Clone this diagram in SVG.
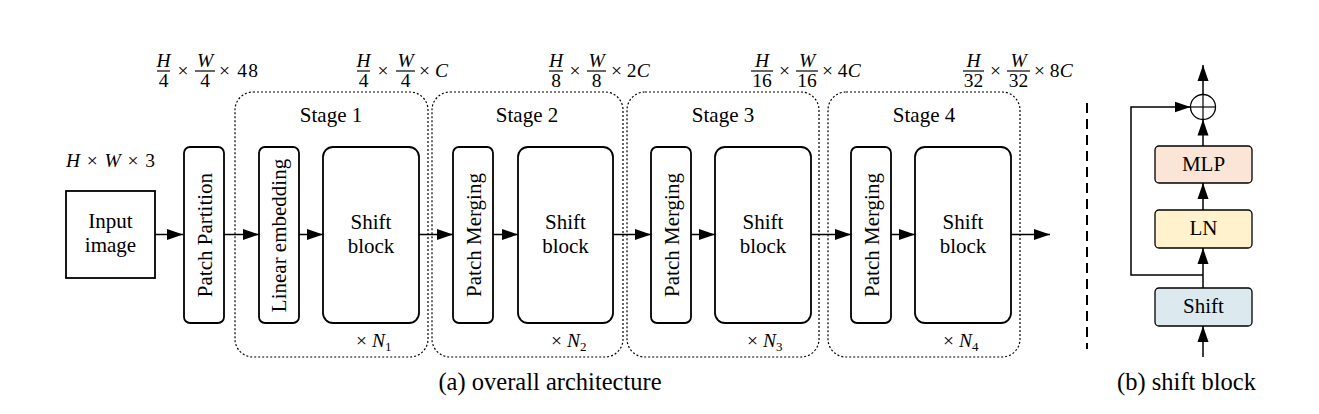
<svg xmlns="http://www.w3.org/2000/svg" width="1319" height="414" viewBox="0 0 1319 414">
<defs>
<marker id="ah" markerUnits="userSpaceOnUse" markerWidth="16" markerHeight="12" refX="16" refY="6" orient="auto">
<path d="M0,0.5 L16,6 L0,11.5 z" fill="#000"/>
</marker>
<style>
text{font-family:'Liberation Serif','Tinos','Times New Roman','DejaVu Serif',serif;fill:#000}
.t{font-size:21px}
.cap{font-size:24.5px}
.m{font-size:19.5px}
.i{font-style:italic}
.box{fill:#fff;stroke:#000;stroke-width:1.8}
.stage{fill:none;stroke:#000;stroke-width:1.2;stroke-dasharray:2 2}
.ln{fill:none;stroke:#000;stroke-width:1.5}
.bar{stroke:#000;stroke-width:1.2}
</style>
</defs>
<rect width="1319" height="414" fill="#fff"/>

<!-- stage containers -->
<g id="stage1"><rect class="stage" x="235" y="92" width="193" height="265" rx="18"/><text class="t" x="331" y="122" text-anchor="middle">Stage 1</text></g>
<g id="stage2"><rect class="stage" x="432" y="92" width="191" height="265" rx="18"/><text class="t" x="527" y="122" text-anchor="middle">Stage 2</text></g>
<g id="stage3"><rect class="stage" x="627" y="92" width="192" height="265" rx="18"/><text class="t" x="723" y="122" text-anchor="middle">Stage 3</text></g>
<g id="stage4"><rect class="stage" x="828" y="92" width="192" height="265" rx="18"/><text class="t" x="924" y="122" text-anchor="middle">Stage 4</text></g>

<!-- nodes -->
<g id="input"><rect class="box" x="66" y="191" width="89" height="87"/><text class="t" x="110.5" y="228" text-anchor="middle">Input</text><text class="t" x="110.5" y="252" text-anchor="middle">image</text></g>
<g id="patch-partition"><rect class="box" x="184" y="147" width="40" height="176" rx="6"/><text class="t" text-anchor="middle" transform="translate(211.5,235) rotate(-90)">Patch Partition</text></g>
<g id="linear-embedding"><rect class="box" x="259" y="147" width="40" height="176" rx="6"/><text class="t" text-anchor="middle" transform="translate(286,235.5) rotate(-90)">Linear embedding</text></g>
<g id="shift1"><rect class="box" x="323" y="147" width="96" height="176" rx="10"/><text class="t" x="371" y="229" text-anchor="middle">Shift</text><text class="t" x="371" y="253" text-anchor="middle">block</text></g>
<g id="merge2"><rect class="box" x="453" y="147" width="40" height="176" rx="6"/><text class="t" text-anchor="middle" transform="translate(481,235) rotate(-90)">Patch Merging</text></g>
<g id="shift2"><rect class="box" x="518" y="147" width="95" height="176" rx="10"/><text class="t" x="565.5" y="229" text-anchor="middle">Shift</text><text class="t" x="565.5" y="253" text-anchor="middle">block</text></g>
<g id="merge3"><rect class="box" x="651" y="147" width="40" height="176" rx="6"/><text class="t" text-anchor="middle" transform="translate(679,235) rotate(-90)">Patch Merging</text></g>
<g id="shift3"><rect class="box" x="715" y="147" width="96" height="176" rx="10"/><text class="t" x="763" y="229" text-anchor="middle">Shift</text><text class="t" x="763" y="253" text-anchor="middle">block</text></g>
<g id="merge4"><rect class="box" x="851" y="147" width="40" height="176" rx="6"/><text class="t" text-anchor="middle" transform="translate(879,235) rotate(-90)">Patch Merging</text></g>
<g id="shift4"><rect class="box" x="915" y="147" width="96" height="176" rx="10"/><text class="t" x="963" y="229" text-anchor="middle">Shift</text><text class="t" x="963" y="253" text-anchor="middle">block</text></g>

<!-- repeat counts -->
<g id="n1"><text class="m" x="356" y="347">× <tspan class="i">N</tspan><tspan font-size="13" dy="4">1</tspan></text></g>
<g id="n2"><text class="m" x="551" y="347">× <tspan class="i">N</tspan><tspan font-size="13" dy="4">2</tspan></text></g>
<g id="n3"><text class="m" x="747" y="347">× <tspan class="i">N</tspan><tspan font-size="13" dy="4">3</tspan></text></g>
<g id="n4"><text class="m" x="943" y="347">× <tspan class="i">N</tspan><tspan font-size="13" dy="4">4</tspan></text></g>

<!-- dimension labels -->
<g id="dim0"><text class="m" x="66" y="167" textLength="89" lengthAdjust="spacing"><tspan class="i">H</tspan> × <tspan class="i">W</tspan> × 3</text></g>
<g id="dim1">
<text class="m i" x="163.5" y="67" text-anchor="middle">H</text><line class="bar" x1="157" y1="71" x2="170" y2="71"/><text class="m" x="163.5" y="87" text-anchor="middle">4</text>
<text class="m" x="183" y="77" text-anchor="middle">×</text>
<text class="m i" x="205" y="67" text-anchor="middle">W</text><line class="bar" x1="195" y1="71" x2="215" y2="71"/><text class="m" x="205" y="87" text-anchor="middle">4</text>
<text class="m" x="219" y="77" textLength="39" lengthAdjust="spacing">× 48</text>
</g>
<g id="dim2">
<text class="m i" x="363.5" y="67" text-anchor="middle">H</text><line class="bar" x1="357" y1="71" x2="370" y2="71"/><text class="m" x="363.5" y="87" text-anchor="middle">4</text>
<text class="m" x="383" y="77" text-anchor="middle">×</text>
<text class="m i" x="405.5" y="67" text-anchor="middle">W</text><line class="bar" x1="396" y1="71" x2="415" y2="71"/><text class="m" x="405.5" y="87" text-anchor="middle">4</text>
<text class="m" x="419" y="77">× <tspan class="i">C</tspan></text>
</g>
<g id="dim3">
<text class="m i" x="556" y="67" text-anchor="middle">H</text><line class="bar" x1="549" y1="71" x2="563" y2="71"/><text class="m" x="556" y="87" text-anchor="middle">8</text>
<text class="m" x="575" y="77" text-anchor="middle">×</text>
<text class="m i" x="596.5" y="67" text-anchor="middle">W</text><line class="bar" x1="587" y1="71" x2="606" y2="71"/><text class="m" x="596.5" y="87" text-anchor="middle">8</text>
<text class="m" x="611" y="77">× 2<tspan class="i">C</tspan></text>
</g>
<g id="dim4">
<text class="m i" x="762" y="67" text-anchor="middle">H</text><line class="bar" x1="751" y1="71" x2="773" y2="71"/><text class="m" x="762" y="87" text-anchor="middle">16</text>
<text class="m" x="784.5" y="77" text-anchor="middle">×</text>
<text class="m i" x="807" y="67" text-anchor="middle">W</text><line class="bar" x1="796" y1="71" x2="818" y2="71"/><text class="m" x="807" y="87" text-anchor="middle">16</text>
<text class="m" x="822" y="77">× 4<tspan class="i">C</tspan></text>
</g>
<g id="dim5">
<text class="m i" x="973.5" y="67" text-anchor="middle">H</text><line class="bar" x1="963" y1="71" x2="984" y2="71"/><text class="m" x="973.5" y="87" text-anchor="middle">32</text>
<text class="m" x="995.5" y="77" text-anchor="middle">×</text>
<text class="m i" x="1018.5" y="67" text-anchor="middle">W</text><line class="bar" x1="1007" y1="71" x2="1030" y2="71"/><text class="m" x="1018.5" y="87" text-anchor="middle">32</text>
<text class="m" x="1034" y="77">× 8<tspan class="i">C</tspan></text>
</g>

<!-- shift block detail nodes -->
<g id="sb-shift"><rect x="1155" y="288" width="97" height="38" rx="4" fill="#DCEAF0" stroke="#000" stroke-width="1.3"/><text class="t" x="1203.5" y="313" text-anchor="middle">Shift</text></g>
<g id="sb-ln"><rect x="1155" y="210" width="97" height="38" rx="4" fill="#FFF2CC" stroke="#000" stroke-width="1.3"/><text class="t" x="1203.5" y="235" text-anchor="middle">LN</text></g>
<g id="sb-mlp"><rect x="1155" y="146" width="97" height="37" rx="4" fill="#FBE5D6" stroke="#000" stroke-width="1.3"/><text class="t" x="1203.5" y="171" text-anchor="middle">MLP</text></g>
<g id="sb-add"><circle cx="1203" cy="107" r="12.5" fill="#fff" stroke="#000" stroke-width="1.3"/><line x1="1190.5" y1="107" x2="1215.5" y2="107" stroke="#000" stroke-width="1.2"/><line x1="1203" y1="94.5" x2="1203" y2="119.5" stroke="#000" stroke-width="1.2"/></g>

<!-- connectors -->
<g id="connectors">
<line class="ln" x1="155" y1="234.5" x2="183" y2="234.5" marker-end="url(#ah)"/>
<line class="ln" x1="224" y1="234.5" x2="259" y2="234.5" marker-end="url(#ah)"/>
<line class="ln" x1="299" y1="234.5" x2="323" y2="234.5" marker-end="url(#ah)"/>
<line class="ln" x1="419" y1="234.5" x2="453" y2="234.5" marker-end="url(#ah)"/>
<line class="ln" x1="493" y1="234.5" x2="518" y2="234.5" marker-end="url(#ah)"/>
<line class="ln" x1="613" y1="234.5" x2="651" y2="234.5" marker-end="url(#ah)"/>
<line class="ln" x1="691" y1="234.5" x2="715" y2="234.5" marker-end="url(#ah)"/>
<line class="ln" x1="811" y1="234.5" x2="851" y2="234.5" marker-end="url(#ah)"/>
<line class="ln" x1="891" y1="234.5" x2="915" y2="234.5" marker-end="url(#ah)"/>
<line class="ln" x1="1011" y1="234.5" x2="1050" y2="234.5" marker-end="url(#ah)"/>
<line class="ln" x1="1203" y1="357" x2="1203" y2="326" marker-end="url(#ah)"/>
<line class="ln" x1="1203" y1="288" x2="1203" y2="248" marker-end="url(#ah)"/>
<line class="ln" x1="1203" y1="210" x2="1203" y2="183" marker-end="url(#ah)"/>
<line class="ln" x1="1203" y1="146" x2="1203" y2="119.5" marker-end="url(#ah)"/>
<line class="ln" x1="1203" y1="94.5" x2="1203" y2="65" marker-end="url(#ah)"/>
<path class="ln" d="M1203,275 H1131 V107 H1190.5" marker-end="url(#ah)"/>
</g>

<!-- separator -->
<line x1="1087" y1="103" x2="1087" y2="349" stroke="#000" stroke-width="2" stroke-dasharray="10 6"/>

<!-- captions -->
<text class="cap" x="550" y="390" text-anchor="middle">(a) overall architecture</text>
<text class="cap" x="1186.5" y="390" text-anchor="middle">(b) shift block</text>
</svg>
